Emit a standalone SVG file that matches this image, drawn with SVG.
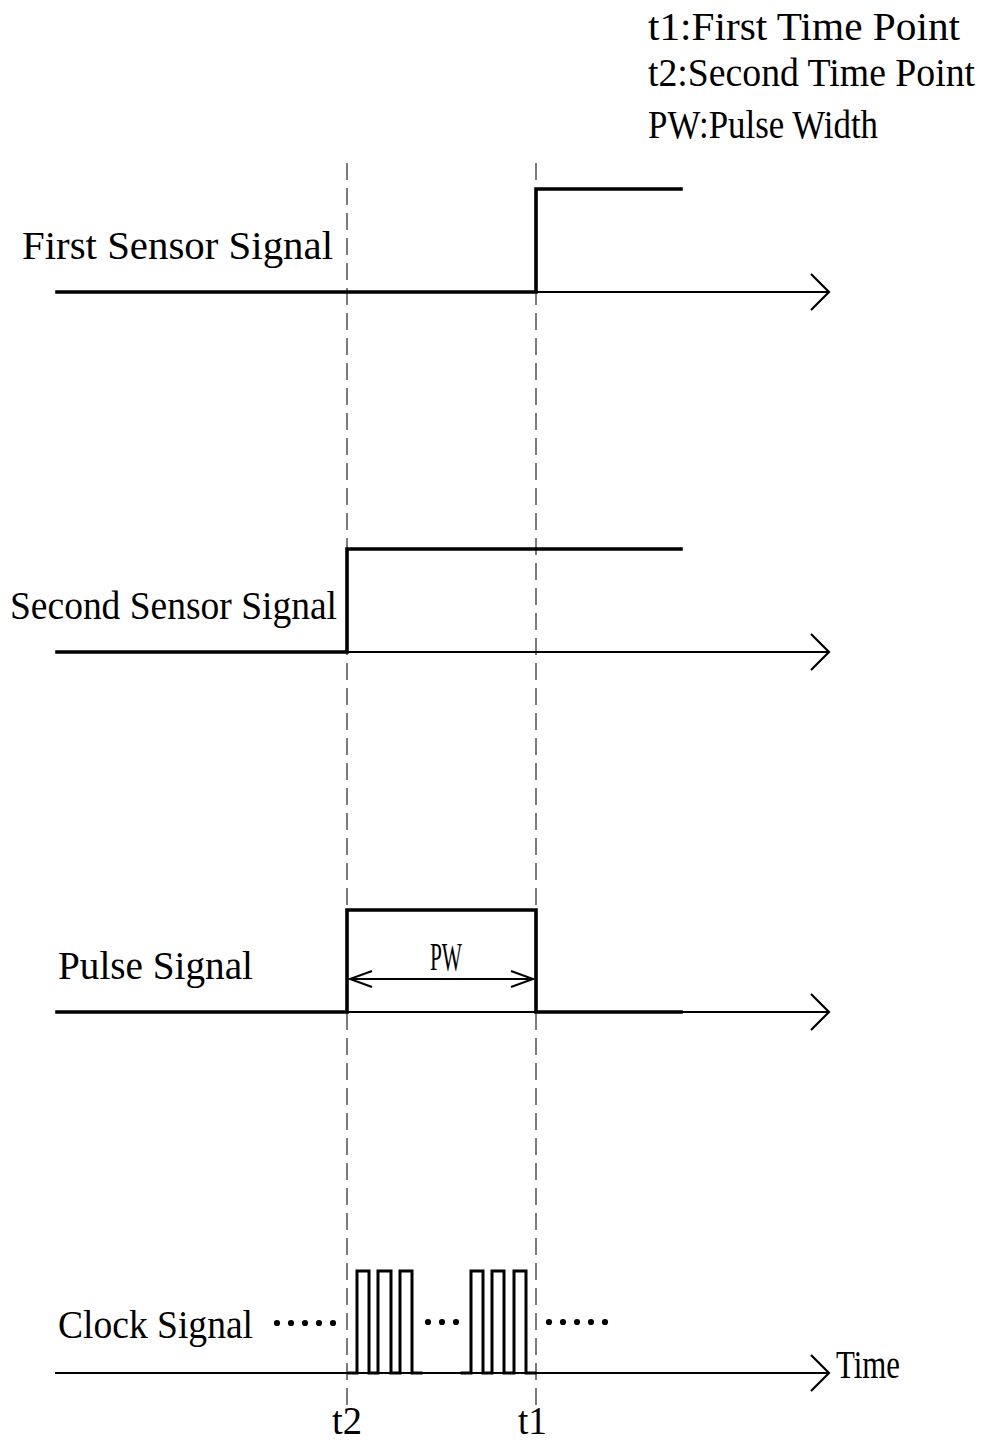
<svg xmlns="http://www.w3.org/2000/svg" width="983" height="1442" viewBox="0 0 983 1442">
<style>
text{font-family:"Liberation Serif","DejaVu Serif",serif;font-size:40px;fill:#000}
.thin{fill:none;stroke:#000;stroke-width:2}
.thick{fill:none;stroke:#000;stroke-width:3.6;stroke-linejoin:miter;stroke-linecap:square}
.dash{fill:none;stroke:#444;stroke-width:1.4;stroke-dasharray:17 8}
.ah{fill:none;stroke:#000;stroke-width:2.2}
</style>
<rect width="983" height="1442" fill="#fff"/>
<g id="legend">
<text x="648" y="40" textLength="312" lengthAdjust="spacingAndGlyphs">t1:First Time Point</text>
<text x="648" y="86" textLength="327" lengthAdjust="spacingAndGlyphs">t2:Second Time Point</text>
<text x="648" y="138" textLength="230" lengthAdjust="spacingAndGlyphs">PW:Pulse Width</text>
</g>
<g id="connectors">
<line class="dash" x1="347" y1="163" x2="347" y2="1410"/>
<line class="dash" x1="536" y1="163" x2="536" y2="1410"/>
</g>
<g id="first-sensor">
<text x="22" y="259" textLength="311" lengthAdjust="spacingAndGlyphs">First Sensor Signal</text>
<line class="thin" x1="536" y1="292" x2="828" y2="292"/>
<polyline class="ah" points="811,274 829,292 811,310"/>
<polyline class="thick" points="57,292 536,292 536,189 681,189"/>
</g>
<g id="second-sensor">
<text x="10" y="619" textLength="327" lengthAdjust="spacingAndGlyphs">Second Sensor Signal</text>
<line class="thin" x1="347" y1="652" x2="828" y2="652"/>
<polyline class="ah" points="811,634 829,652 811,670"/>
<polyline class="thick" points="57,652 347,652 347,549 681,549"/>
</g>
<g id="pulse">
<text x="58" y="979" textLength="195" lengthAdjust="spacingAndGlyphs">Pulse Signal</text>
<line class="thin" x1="347" y1="1012" x2="828" y2="1012"/>
<polyline class="ah" points="811,994 829,1012 811,1030"/>
<polyline class="thick" points="57,1012 347,1012 347,910 536,910 536,1012 681,1012"/>
<line class="thin" x1="350" y1="979" x2="533" y2="979"/>
<polyline class="thin" points="372,971 350,979 372,987"/>
<polyline class="thin" points="511,971 533,979 511,987"/>
<text x="430" y="970" textLength="32" lengthAdjust="spacingAndGlyphs">PW</text>
</g>
<g id="clock">
<text x="58" y="1338" textLength="195" lengthAdjust="spacingAndGlyphs">Clock Signal</text>
<line class="thin" x1="55" y1="1373" x2="828" y2="1373"/>
<polyline class="ah" points="811,1355 829,1373 811,1391"/>
<text x="836" y="1378" textLength="64" lengthAdjust="spacingAndGlyphs">Time</text>
<polyline class="thick" style="stroke-width:3" points="349,1373 357,1373 357,1271 369,1271 369,1373 378,1373 378,1271 391,1271 391,1373 400,1373 400,1271 412,1271 412,1373 421,1373"/>
<polyline class="thick" style="stroke-width:3" points="462,1373 471,1373 471,1271 483,1271 483,1373 492,1373 492,1271 504,1271 504,1373 514,1373 514,1271 526,1271 526,1373 535,1373"/>
<g fill="#000">
<circle cx="277" cy="1323" r="3.1"/><circle cx="291" cy="1323" r="3.1"/><circle cx="305" cy="1323" r="3.1"/><circle cx="319" cy="1323" r="3.1"/><circle cx="333" cy="1323" r="3.1"/>
<circle cx="428" cy="1322" r="3.1"/><circle cx="442" cy="1322" r="3.1"/><circle cx="456" cy="1322" r="3.1"/>
<circle cx="549" cy="1322" r="3.1"/><circle cx="563" cy="1322" r="3.1"/><circle cx="577" cy="1322" r="3.1"/><circle cx="591" cy="1322" r="3.1"/><circle cx="605" cy="1322" r="3.1"/>
</g>
</g>
<g id="time-labels">
<text x="332" y="1434" textLength="30" lengthAdjust="spacingAndGlyphs">t2</text>
<text x="518" y="1434" textLength="29" lengthAdjust="spacingAndGlyphs">t1</text>
</g>
</svg>
